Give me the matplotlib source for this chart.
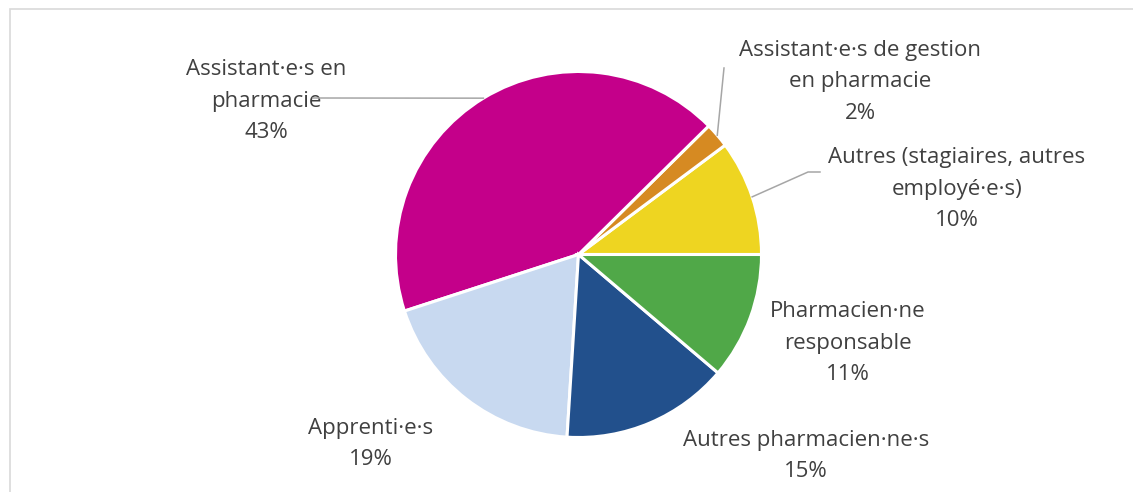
import numpy as np
import matplotlib
matplotlib.use("Agg")
import matplotlib.pyplot as plt
from matplotlib.patches import Rectangle

categories = [
    "Autres (stagiaires, autres\nemployé·e·s)",
    "Assistant·e·s de gestion\nen pharmacie",
    "Assistant·e·s en\npharmacie",
    "Apprenti·e·s",
    "Autres pharmacien·ne·s",
    "Pharmacien·ne\nresponsable",
]
values = [10.2, 2.2, 42.6, 19.0, 14.8, 11.2]
colors = ["#EED521", "#D68A22", "#C4008A", "#C8D9F0", "#22508C", "#50A848"]

plt.rcParams['font.family'] = ['Open Sans', 'DejaVu Sans']

W, H = 1133, 492
fig = plt.figure(figsize=(W / 100, H / 100), dpi=100)
ax = fig.add_axes([0, 0, 1, 1])
ax.set_xlim(0, W)
ax.set_ylim(0, H)
ax.set_aspect('equal')
ax.axis('off')

# chart border
ax.add_patch(Rectangle((10, -20), W + 20, H - 9 + 20, fill=False,
                       edgecolor='#D9D9D9', linewidth=1.2))

cx, cy, r = 578.5, H - 254.5, 183
wedges, _ = ax.pie(values, colors=colors, startangle=0, counterclock=True,
                   center=(cx, cy), radius=r, frame=True,
                   wedgeprops=dict(edgecolor='white', linewidth=2.2))
ax.set_xlim(0, W)
ax.set_ylim(0, H)
ax.axis('off')

txt_color = '#404040'
fs = 16
# label text centers (pixel coords, y from top)
label_pos = [(957, 189), (860, 82), (266, 101), (371, 444), (806, 456), (848, 343)]
for (lx, ly), cat, v in zip(label_pos, categories, values):
    ax.text(lx, H - ly, f"{cat}\n{v:.0f}%", ha='center', va='center',
            fontsize=fs, color=txt_color, linespacing=1.65, zorder=2)

def edge_point(w):
    a = np.deg2rad((w.theta1 + w.theta2) / 2)
    return cx + r * np.cos(a), cy + r * np.sin(a)

lc = '#A6A6A6'
# leader for yellow
ex, ey = edge_point(wedges[0])
ax.plot([ex, 808, 820], [ey, H - 172, H - 172], color=lc, lw=1.1, zorder=1)
# leader for orange
ex, ey = edge_point(wedges[1])
ax.plot([ex, 724], [ey, H - 68], color=lc, lw=1.1, zorder=1)
# leader for magenta
ex, ey = edge_point(wedges[2])
ax.plot([ex, 313], [ey, H - 98], color=lc, lw=1.1, zorder=3)

fig.savefig("out.png", dpi=100)
